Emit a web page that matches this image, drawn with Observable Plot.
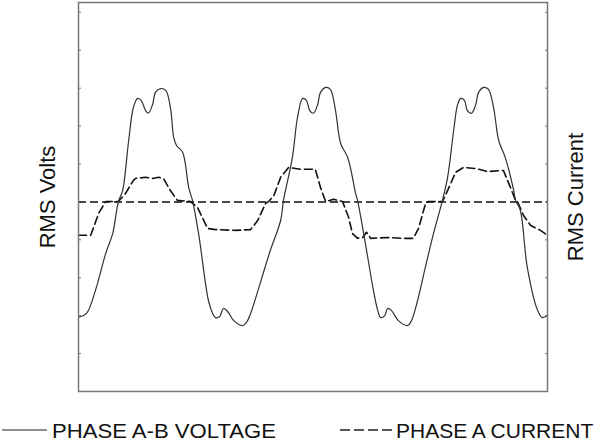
<!DOCTYPE html>
<html>
<head>
<meta charset="utf-8">
<script src="https://cdn.jsdelivr.net/npm/d3@7"></script>
<script src="https://cdn.jsdelivr.net/npm/@observablehq/plot@0.6"></script>
<style>
  html, body { margin: 0; padding: 0; background: #fff; }
  #chart { width: 600px; height: 443px; position: relative; font-family: "Liberation Sans", Arial, sans-serif; }
  svg { display: block; }
</style>
</head>
<body>
<div id="chart"></div>
<script>
// Time axis (arbitrary sample units, 0-100) and RMS values (tick units)
const voltT = [0,1.7,3.6,5.8,7.3,8.5,9.4,10.7,11.7,12.6,13.4,14.3,14.9,15.8,16.4,17.5,18.6,19.6,20.3,20.9,22.2,23.5,24.3,25.6,27.7,28.6,29.2,30.1,30.9,31.8,33.1,35.0,35.8,36.7,38.8,40.9,43.1,43.7,45.6,46.7,47.8,48.6,49.3,50.1,51.0,51.6,52.7,53.7,54.8,55.9,57.4,59.1,59.5,60.8,62.9,63.8,64.4,65.3,65.9,66.7,68.2,70.2,71.0,72.3,74.0,75.7,77.6,78.7,80.0,80.8,81.5,82.3,82.9,83.8,84.7,85.3,86.4,87.4,88.5,89.6,91.0,92.8,93.2,94.2,95.7,97.9,98.9,100];
const voltV = [1.96,2.06,2.66,3.64,4.17,5.01,5.30,6.62,7.49,7.73,7.67,7.41,7.34,7.57,7.89,7.99,7.94,7.49,6.70,6.49,6.31,5.38,5.04,4.17,2.40,2.06,1.95,1.98,2.19,2.11,1.87,1.74,1.82,2.06,2.88,3.72,4.51,5.04,6.17,7.23,7.73,7.68,7.41,7.34,7.57,7.89,8.02,7.97,7.41,6.54,6.17,5.22,5.04,4.17,2.66,2.14,1.95,2.00,2.19,2.14,1.87,1.74,1.87,2.40,3.30,4.17,5.04,5.65,6.89,7.55,7.73,7.68,7.41,7.34,7.57,7.89,8.02,7.97,7.49,6.62,6.17,5.30,5.04,4.78,3.27,2.14,1.95,2.01];

const currT = [0,2.6,4.3,5.8,8.5,10.0,11.7,12.2,14.3,15.8,17.1,18.1,19.6,21.1,23.9,25.4,26.4,27.5,29.2,33.5,36.7,38.2,39.9,40.5,41.6,43.1,44.8,47.3,50.5,51.6,52.7,54.4,56.3,57.6,58.4,59.5,60.6,61.4,62.3,65.9,69.3,71.4,72.5,74.0,74.6,77.6,78.7,80.4,82.1,84.7,87.2,90.6,92.1,93.2,93.6,94.9,96.4,98.5,100];
const currV = [4.12,4.12,4.70,5.01,5.01,5.22,5.57,5.62,5.65,5.62,5.65,5.62,5.30,5.04,5.01,4.85,4.59,4.30,4.27,4.25,4.27,4.51,4.96,5.01,5.15,5.65,5.91,5.86,5.86,5.38,5.01,5.07,5.01,4.59,4.17,4.04,4.06,4.20,4.04,4.06,4.04,4.04,4.30,4.96,5.01,5.01,5.30,5.78,5.91,5.88,5.80,5.83,5.38,5.04,5.01,4.64,4.38,4.25,4.12];

const refLevel = [5];
const yTicks = [1,2,3,4,5,6,7,8,9,10];
const leftLabel = "RMS Volts";
const rightLabel = "RMS Current";
const legendLabels = ["PHASE A-B VOLTAGE", "PHASE A CURRENT"];

const volt = voltT.map((t, i) => ({t, v: voltV[i]}));
const curr = currT.map((t, i) => ({t, v: currV[i]}));

const plot = Plot.plot({
  width: 600,
  height: 398,
  marginLeft: 78,
  marginRight: 53,
  marginTop: 2,
  marginBottom: 7,
  style: {fontFamily: "'Liberation Sans', Arial, sans-serif", background: "#fff"},
  x: {domain: [0, 100], axis: null},
  y: {domain: [0, 10.26], axis: null},
  marks: [
    Plot.axisY({anchor: "left", ticks: yTicks, tickSize: -3, tickFormat: () => "", label: null, stroke: "#777"}),
    Plot.axisY({anchor: "right", ticks: yTicks, tickSize: -3, tickFormat: () => "", label: null, stroke: "#777"}),
    Plot.ruleY(refLevel, {stroke: "#111", strokeWidth: 1.5, strokeDasharray: "8,4"}),
    Plot.line(curr, {x: "t", y: "v", stroke: "#111", strokeWidth: 1.6, strokeDasharray: "8,4"}),
    Plot.line(volt, {x: "t", y: "v", stroke: "#333", strokeWidth: 1.2, curve: "catmull-rom"}),
    Plot.frame({stroke: "#777", strokeWidth: 1.5}),
    Plot.text([leftLabel], {frameAnchor: "left", dx: -31, rotate: -90, textAnchor: "middle", lineAnchor: "middle", fontSize: 22, fill: "#111"}),
    Plot.text([rightLabel], {frameAnchor: "right", dx: 28, rotate: -90, textAnchor: "middle", lineAnchor: "middle", fontSize: 22, fill: "#111"})
  ]
});
document.getElementById("chart").appendChild(plot);

// Legend below the plot
const ns = "http://www.w3.org/2000/svg";
const leg = document.createElementNS(ns, "svg");
leg.setAttribute("width", 600);
leg.setAttribute("height", 45);
const items = [
  {label: legendLabels[0], x0: 2, x1: 47, tx: 52, len: 224, dash: null},
  {label: legendLabels[1], x0: 340, x1: 393, tx: 396, len: null, dash: "10,4"}
];
for (const it of items) {
  const ln = document.createElementNS(ns, "line");
  ln.setAttribute("x1", it.x0); ln.setAttribute("x2", it.x1);
  ln.setAttribute("y1", 32); ln.setAttribute("y2", 32);
  ln.setAttribute("stroke", "#222");
  ln.setAttribute("stroke-width", it.dash ? 1.5 : 1.2);
  if (it.dash) ln.setAttribute("stroke-dasharray", it.dash);
  leg.appendChild(ln);
  const tx = document.createElementNS(ns, "text");
  tx.setAttribute("x", it.tx); tx.setAttribute("y", 40);
  tx.setAttribute("font-size", 21);
  if (it.len) {
    tx.setAttribute("textLength", it.len);
    tx.setAttribute("lengthAdjust", "spacingAndGlyphs");
  }
  tx.setAttribute("font-family", "'Liberation Sans', Arial, sans-serif");
  tx.setAttribute("fill", "#111");
  tx.textContent = it.label;
  leg.appendChild(tx);
}
document.getElementById("chart").appendChild(leg);
</script>
</body>
</html>
